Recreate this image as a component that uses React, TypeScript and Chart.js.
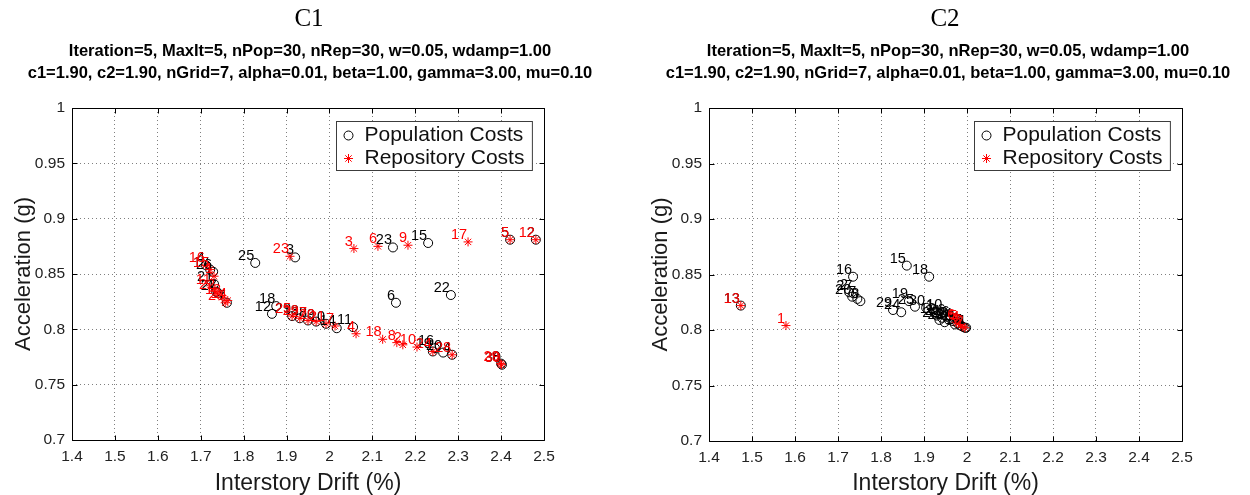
import React, { useEffect, useRef } from "react";
import { Chart, registerables } from "chart.js";
Chart.register(...registerables);

// ---------- tick values / labels ----------
const xTickValues = [1.4, 1.5, 1.6, 1.7, 1.8, 1.9, 2.0, 2.1, 2.2, 2.3, 2.4, 2.5];
const xTickLabels = ["1.4", "1.5", "1.6", "1.7", "1.8", "1.9", "2", "2.1", "2.2", "2.3", "2.4", "2.5"];
const yTickValues = [0.7, 0.75, 0.8, 0.85, 0.9, 0.95, 1.0];
const yTickLabels = ["0.7", "0.75", "0.8", "0.85", "0.9", "0.95", "1"];

const subtitleLines = [
  "Iteration=5, MaxIt=5, nPop=30, nRep=30, w=0.05, wdamp=1.00",
  "c1=1.90, c2=1.90, nGrid=7, alpha=0.01, beta=1.00, gamma=3.00, mu=0.10",
];
const xAxisTitle = "Interstory Drift (%)";
const yAxisTitle = "Acceleration (g)";
const legendLabels = ["Population Costs", "Repository Costs"];

// ---------- C1 ----------
const c1PopLbl = ["25", "3", "23", "15", "6", "22", "11", "14", "18", "12", "16", "20", "30", "2", "26", "21", "27", "7", "13", "28", "9", "10", "24", "29", "4", "19", "17", "8", "1", "5"];
const c1PopX = [1.827, 1.92, 2.148, 2.23, 2.155, 2.283, 2.055, 2.017, 1.876, 1.866, 2.246, 2.265, 2.402, 2.481, 1.729, 1.731, 1.74, 1.761, 1.931, 1.95, 1.969, 1.992, 2.286, 1.913, 1.712, 2.241, 1.722, 2.4, 1.736, 2.421];
const c1PopY = [0.86, 0.865, 0.874, 0.878, 0.824, 0.831, 0.802, 0.801, 0.821, 0.814, 0.783, 0.779, 0.768, 0.881, 0.852, 0.841, 0.833, 0.824, 0.81, 0.808, 0.807, 0.805, 0.777, 0.812, 0.858, 0.78, 0.854, 0.769, 0.834, 0.881];

const c1RepLbl = ["3", "6", "9", "17", "5", "12", "23", "4", "18", "8", "2", "10", "24", "28", "30", "29", "25", "29", "27", "20", "21", "7", "16", "15", "1", "11", "22", "13", "14", "26"];
const c1RepX = [2.057, 2.113, 2.183, 2.323, 2.421, 2.481, 1.908, 2.062, 2.124, 2.157, 2.171, 2.204, 2.241, 2.286, 2.401, 2.399, 1.913, 1.931, 1.95, 1.969, 1.992, 2.013, 1.712, 1.722, 1.731, 1.726, 1.736, 1.75, 1.763, 1.757];
const c1RepY = [0.873, 0.875, 0.876, 0.879, 0.881, 0.881, 0.866, 0.796, 0.791, 0.788, 0.786, 0.784, 0.78, 0.777, 0.768, 0.769, 0.812, 0.81, 0.808, 0.807, 0.805, 0.803, 0.858, 0.854, 0.848, 0.838, 0.834, 0.829, 0.826, 0.824];

// ---------- C2 ----------
const c2PopLbl = ["13", "16", "15", "18", "2", "27", "20", "7", "3", "19", "29", "24", "25", "30", "10", "12", "21", "26", "28", "22", "14", "9", "11", "8", "17", "5", "6", "1", "23", "4"];
const c2PopX = [1.474, 1.735, 1.86, 1.912, 1.726, 1.736, 1.733, 1.745, 1.752, 1.865, 1.828, 1.847, 1.879, 1.905, 1.945, 1.93, 1.942, 1.952, 1.958, 1.948, 1.968, 1.972, 1.978, 1.985, 1.99, 1.995, 1.962, 1.925, 1.936, 1.998];
const c2PopY = [0.822, 0.848, 0.858, 0.848, 0.834, 0.833, 0.83, 0.828, 0.826, 0.826, 0.818, 0.816, 0.821, 0.82, 0.816, 0.813, 0.811, 0.812, 0.809, 0.807, 0.808, 0.805, 0.806, 0.804, 0.803, 0.802, 0.81, 0.815, 0.809, 0.802];

const c2RepLbl = ["13", "1", "6", "5", "4", "3", "2"];
const c2RepX = [1.474, 1.579, 1.975, 1.98, 1.985, 1.99, 1.995];
const c2RepY = [0.822, 0.804, 0.807, 0.806, 0.805, 0.803, 0.802];

// ---------- styling ----------
const SANS = '"Liberation Sans", Arial, Helvetica, sans-serif';
const SERIF = '"Liberation Serif", "Times New Roman", serif';
const W = 625;
const H = 495;

function drawStar(ctx: CanvasRenderingContext2D, cx: number, cy: number, r: number) {
  ctx.beginPath();
  for (let k = 0; k < 4; k++) {
    const ang = (k * Math.PI) / 4;
    const dx = Math.cos(ang) * r;
    const dy = Math.sin(ang) * r;
    ctx.moveTo(cx - dx, cy - dy);
    ctx.lineTo(cx + dx, cy + dy);
  }
  ctx.stroke();
}

type PanelProps = {
  title: string;
  popX: number[];
  popY: number[];
  popLbl: string[];
  repX: number[];
  repY: number[];
  repLbl: string[];
  area: { left: number; right: number; top: number; bottom: number };
  titleX: number;
  subX: number;
  offsetLeft: number;
};

function Panel(p: PanelProps) {
  const ref = useRef<HTMLCanvasElement | null>(null);
  useEffect(() => {
    if (!ref.current) return;
    const area = p.area;

    const labelPlugin = {
      id: "pointLabels",
      afterDatasetsDraw(chart: any) {
        const ctx = chart.ctx as CanvasRenderingContext2D;
        ctx.save();
        ctx.font = "14.5px " + SANS;
        ctx.textAlign = "right";
        ctx.textBaseline = "alphabetic";
        const order = [1, 0];
        order.forEach((di) => {
          const meta = chart.getDatasetMeta(di);
          const lbls = di === 1 ? p.popLbl : p.repLbl;
          ctx.fillStyle = di === 1 ? "#000000" : "#ff0000";
          meta.data.forEach((el: any, j: number) => {
            ctx.fillText(lbls[j], el.x - 1, el.y - 3);
          });
        });
        ctx.restore();
      },
    };

    const decoPlugin = {
      id: "deco",
      beforeDraw(chart: any) {
        const ctx = chart.ctx as CanvasRenderingContext2D;
        ctx.save();
        ctx.fillStyle = "#ffffff";
        ctx.fillRect(0, 0, chart.width, chart.height);
        ctx.restore();
      },
      afterDraw(chart: any) {
        const ctx = chart.ctx as CanvasRenderingContext2D;
        const a = chart.chartArea;
        const xs = chart.scales.x;
        const ys = chart.scales.y;
        ctx.save();
        // box
        ctx.strokeStyle = "#000";
        ctx.lineWidth = 1;
        const L = Math.round(a.left) + 0.5;
        const T = Math.round(a.top) + 0.5;
        const R = Math.round(a.right) + 0.5;
        const B = Math.round(a.bottom) + 0.5;
        ctx.beginPath();
        ctx.moveTo(L, T);
        ctx.lineTo(R, T);
        ctx.lineTo(R, B);
        ctx.lineTo(L, B);
        ctx.closePath();
        ctx.stroke();
        // inward ticks
        ctx.beginPath();
        xTickValues.forEach((v) => {
          const px = Math.round(xs.getPixelForValue(v)) + 0.5;
          ctx.moveTo(px, B);
          ctx.lineTo(px, B - 5);
          ctx.moveTo(px, T);
          ctx.lineTo(px, T + 5);
        });
        yTickValues.forEach((v) => {
          const py = Math.round(ys.getPixelForValue(v)) + 0.5;
          ctx.moveTo(L, py);
          ctx.lineTo(L + 5, py);
          ctx.moveTo(R, py);
          ctx.lineTo(R - 5, py);
        });
        ctx.stroke();

        // legend
        ctx.font = "21px " + SANS;
        const tw = Math.max(...legendLabels.map((s) => ctx.measureText(s).width));
        const boxW = 28 + tw + 8;
        const boxH = 49;
        const bx = Math.round(a.right - 12 - boxW) + 0.5;
        const by = Math.round(a.top + 13) + 0.5;
        ctx.fillStyle = "#ffffff";
        ctx.fillRect(bx, by, boxW, boxH);
        ctx.strokeStyle = "#3c3c3c";
        ctx.strokeRect(bx, by, boxW, boxH);
        const row1 = by + 14;
        const row2 = by + 37;
        ctx.strokeStyle = "#000";
        ctx.beginPath();
        ctx.arc(bx + 12, row1, 4.5, 0, Math.PI * 2);
        ctx.stroke();
        ctx.strokeStyle = "#ff0000";
        drawStar(ctx, bx + 12, row2, 4.5);
        ctx.fillStyle = "#111";
        ctx.textAlign = "left";
        ctx.textBaseline = "middle";
        ctx.fillText(legendLabels[0], bx + 28, row1);
        ctx.fillText(legendLabels[1], bx + 28, row2);

        // titles
        ctx.fillStyle = "#000";
        ctx.textAlign = "center";
        ctx.textBaseline = "middle";
        ctx.font = "25px " + SERIF;
        ctx.fillText(p.title, p.titleX, 19);
        ctx.font = "bold 16.5px " + SANS;
        ctx.fillText(subtitleLines[0], p.subX, 51);
        ctx.fillText(subtitleLines[1], p.subX, 73);

        // axis titles
        ctx.fillStyle = "#1a1a1a";
        ctx.font = "23px " + SANS;
        ctx.fillText(xAxisTitle, (a.left + a.right) / 2, 484);
        ctx.save();
        ctx.translate(a.left - 48, (a.top + a.bottom) / 2);
        ctx.rotate(-Math.PI / 2);
        ctx.font = "22px " + SANS;
        ctx.fillText(yAxisTitle, 0, 0);
        ctx.restore();
        ctx.restore();
      },
    };

    const tickFont = { family: SANS, size: 15.5 };
    const chart = new Chart(ref.current, {
      type: "scatter",
      data: {
        datasets: [
          {
            label: legendLabels[1],
            data: p.repX.map((x, i) => ({ x, y: p.repY[i] })),
            pointStyle: "star",
            pointRadius: 4.5,
            pointBorderColor: "#ff0000",
            pointBackgroundColor: "#ff0000",
            pointBorderWidth: 1,
            order: 0,
          } as any,
          {
            label: legendLabels[0],
            data: p.popX.map((x, i) => ({ x, y: p.popY[i] })),
            pointStyle: "circle",
            pointRadius: 4.5,
            pointBorderColor: "#000000",
            pointBackgroundColor: "rgba(0,0,0,0)",
            pointBorderWidth: 1,
            order: 1,
          } as any,
        ],
      },
      options: {
        responsive: false,
        animation: false,
        devicePixelRatio: 1,
        layout: { padding: { left: 0, top: area.top, right: W - area.right, bottom: 0 } },
        plugins: {
          legend: { display: false },
          tooltip: { enabled: false },
          title: { display: false },
        },
        scales: {
          x: {
            type: "linear",
            min: 1.4,
            max: 2.5,
            afterBuildTicks: (s: any) => {
              s.ticks = xTickValues.map((v) => ({ value: v }));
            },
            afterFit: (s: any) => {
              s.height = H - area.bottom;
            },
            ticks: {
              callback: (_v: any, i: number) => xTickLabels[i],
              font: tickFont,
              color: "#222",
              padding: 7,
              maxRotation: 0,
              autoSkip: false,
            },
            grid: { color: "rgba(0,0,0,0.5)", drawTicks: false, lineWidth: 1 },
            border: { display: false, dash: [1, 3] },
          },
          y: {
            type: "linear",
            min: 0.7,
            max: 1.0,
            afterBuildTicks: (s: any) => {
              s.ticks = yTickValues.map((v) => ({ value: v }));
            },
            afterFit: (s: any) => {
              s.width = area.left;
            },
            ticks: {
              callback: (_v: any, i: number) => yTickLabels[i],
              font: tickFont,
              color: "#222",
              padding: 7,
              autoSkip: false,
            },
            grid: { color: "rgba(0,0,0,0.5)", drawTicks: false, lineWidth: 1 },
            border: { display: false, dash: [1, 3] },
          },
        },
      } as any,
      plugins: [decoPlugin, labelPlugin],
    });
    return () => chart.destroy();
  }, []);
  return (
    <canvas
      ref={ref}
      width={W}
      height={H}
      style={{ position: "absolute", left: p.offsetLeft, top: 0, width: W, height: H }}
    />
  );
}

export default function App() {
  return (
    <div style={{ position: "fixed", left: 0, top: 0, width: 1250, height: 495, background: "#fff", overflow: "hidden" }}>
      <Panel
        title="C1"
        popX={c1PopX}
        popY={c1PopY}
        popLbl={c1PopLbl}
        repX={c1RepX}
        repY={c1RepY}
        repLbl={c1RepLbl}
        area={{ left: 72, right: 544, top: 108, bottom: 440 }}
        titleX={309}
        subX={310}
        offsetLeft={0}
      />
      <Panel
        title="C2"
        popX={c2PopX}
        popY={c2PopY}
        popLbl={c2PopLbl}
        repX={c2RepX}
        repY={c2RepY}
        repLbl={c2RepLbl}
        area={{ left: 84, right: 557, top: 108, bottom: 441 }}
        titleX={320}
        subX={323}
        offsetLeft={625}
      />
    </div>
  );
}
